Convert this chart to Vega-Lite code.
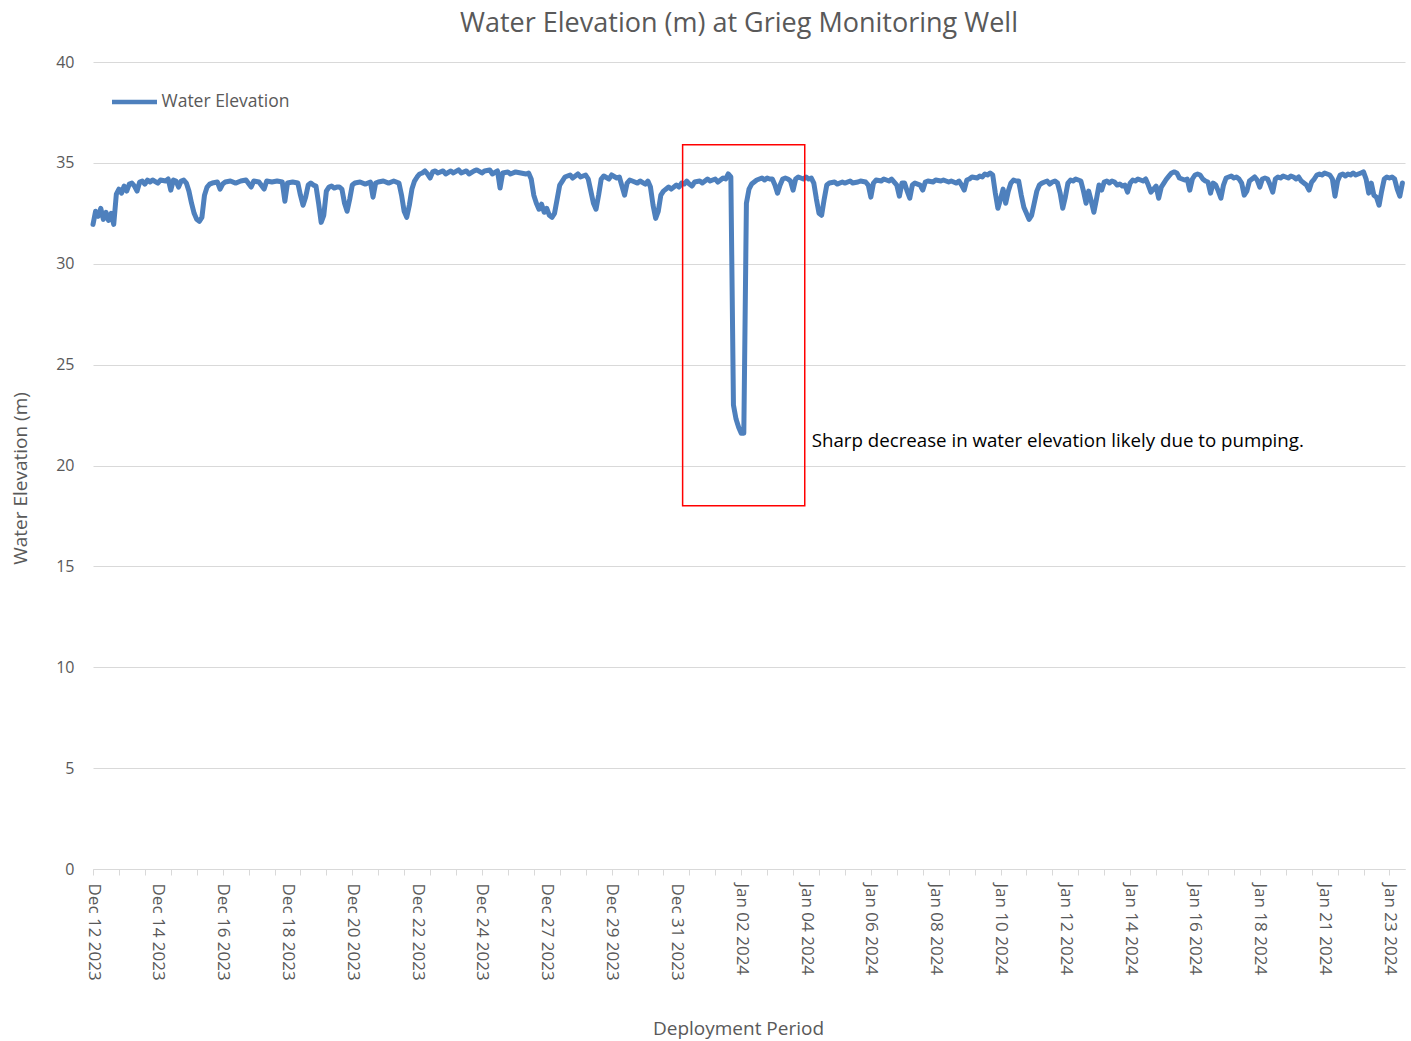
{
  "$schema": "https://vega.github.io/schema/vega-lite/v6.json",
  "width": 1312,
  "height": 807,
  "autosize": {"type": "none"},
  "padding": {"left": 93, "top": 62, "right": 6, "bottom": 172},
  "background": "white",
  "title": {"text": "Water Elevation (m) at Grieg Monitoring Well", "font": "Open Sans", "fontSize": 27, "fontWeight": "normal", "color": "#595959", "anchor": "middle", "baseline": "alphabetic", "offset": -5, "dx": -10},
  "config": {"view": {"stroke": null}, "font": "Open Sans"},
  "encoding": {
    "x": {"field": "i", "type": "quantitative",
      "scale": {"domain": [0, 506], "nice": false, "zero": false},
      "axis": {
        "title": "Deployment Period", "titleFont": "Open Sans", "titleFontSize": 19, "titleFontWeight": "normal", "titleColor": "#595959",
        "titleX": 645, "titleY": 159, "titleAlign": "center", "titleBaseline": "middle",
        "values": [0,5,10,15,20,25,30,35,40,45,50,55,60,65,70,75,80,85,90,95,100,105,110,115,120,125,130,135,140,145,150,155,160,165,170,175,180,185,190,195,200,205,210,215,220,225,230,235,240,245,250,255,260,265,270,275,280,285,290,295,300,305,310,315,320,325,330,335,340,345,350,355,360,365,370,375,380,385,390,395,400,405,410,415,420,425,430,435,440,445,450,455,460,465,470,475,480,485,490,495,500,505],
        "labelExpr": "datum.value % 25 === 0 && datum.value <= 500 ? ['Dec 12 2023','Dec 14 2023','Dec 16 2023','Dec 18 2023','Dec 20 2023','Dec 22 2023','Dec 24 2023','Dec 27 2023','Dec 29 2023','Dec 31 2023','Jan 02 2024','Jan 04 2024','Jan 06 2024','Jan 08 2024','Jan 10 2024','Jan 12 2024','Jan 14 2024','Jan 16 2024','Jan 18 2024','Jan 21 2024','Jan 23 2024'][datum.value / 25] : ''",
        "labelAngle": 90, "labelFont": "Open Sans", "labelFontSize": 17, "labelColor": "#595959",
        "labelOverlap": false, "labelFlush": false, "labelBound": false, "labelPadding": 8,
        "ticks": true, "tickSize": 6, "tickColor": "#d9d9d9", "tickWidth": 1,
        "tickOpacity": {"condition": {"test": "datum.value % 10 === 0", "value": 1}, "value": 0},
        "domain": true, "domainColor": "#d9d9d9", "domainWidth": 1,
        "grid": false
      }
    },
    "y": {"field": "v", "type": "quantitative",
      "scale": {"domain": [0, 40], "nice": false, "zero": true},
      "axis": {
        "title": "Water Elevation (m)", "titleFont": "Open Sans", "titleFontSize": 19, "titleFontWeight": "normal", "titleColor": "#595959",
        "titleX": -73, "titleY": 416, "titleAngle": -90, "titleAlign": "center", "titleBaseline": "middle",
        "values": [0,5,10,15,20,25,30,35,40],
        "labelFont": "Open Sans", "labelFontSize": 16, "labelColor": "#595959", "labelPadding": 19,
        "ticks": false, "domain": false,
        "grid": true, "gridColor": "#d9d9d9", "gridWidth": 1
      }
    }
  },
  "layer": [
    {
      "data": {"values": [
{"i":0,"v":31.95},{"i":1,"v":32.6},{"i":2,"v":32.35},{"i":3,"v":32.75},{"i":4,"v":32.2},{"i":5,"v":32.55},{"i":6,"v":32.15},{"i":7,"v":32.5},{"i":8,"v":31.95},{"i":9,"v":33.45},{"i":10,"v":33.7},{"i":11,"v":33.5},{"i":12,"v":33.85},{"i":13,"v":33.6},{"i":14,"v":33.95},{"i":15,"v":34.0},{"i":16,"v":33.85},{"i":17,"v":33.6},{"i":18,"v":34.05},{"i":19,"v":34.1},{"i":20,"v":33.95},{"i":21,"v":34.15},{"i":22,"v":34.05},{"i":23,"v":34.15},{"i":25,"v":34.0},{"i":26,"v":34.15},{"i":28,"v":34.1},{"i":29,"v":34.2},{"i":30,"v":33.65},{"i":31,"v":34.15},{"i":32,"v":34.1},{"i":33,"v":33.8},{"i":34,"v":34.1},{"i":35,"v":34.15},{"i":36,"v":34.0},{"i":37,"v":33.6},{"i":38,"v":33.0},{"i":39,"v":32.5},{"i":40,"v":32.2},{"i":41,"v":32.1},{"i":42,"v":32.3},{"i":43,"v":33.4},{"i":44,"v":33.8},{"i":45,"v":33.95},{"i":46,"v":34.0},{"i":48,"v":34.05},{"i":49,"v":33.7},{"i":50,"v":33.95},{"i":51,"v":34.05},{"i":53,"v":34.1},{"i":55,"v":34.0},{"i":57,"v":34.1},{"i":59,"v":34.15},{"i":61,"v":33.8},{"i":62,"v":34.1},{"i":64,"v":34.05},{"i":66,"v":33.7},{"i":67,"v":34.1},{"i":69,"v":34.05},{"i":71,"v":34.1},{"i":73,"v":34.05},{"i":74,"v":33.1},{"i":75,"v":34.0},{"i":77,"v":34.05},{"i":79,"v":34.0},{"i":80,"v":33.4},{"i":81,"v":32.9},{"i":82,"v":33.3},{"i":83,"v":33.9},{"i":84,"v":34.0},{"i":85,"v":33.9},{"i":86,"v":33.85},{"i":87,"v":33.0},{"i":88,"v":32.05},{"i":89,"v":32.4},{"i":90,"v":33.6},{"i":91,"v":33.8},{"i":92,"v":33.85},{"i":93,"v":33.75},{"i":94,"v":33.8},{"i":95,"v":33.8},{"i":96,"v":33.7},{"i":97,"v":33.0},{"i":98,"v":32.6},{"i":99,"v":33.2},{"i":100,"v":33.9},{"i":101,"v":34.0},{"i":103,"v":34.05},{"i":105,"v":33.95},{"i":107,"v":34.05},{"i":108,"v":33.3},{"i":109,"v":34.0},{"i":110,"v":34.05},{"i":112,"v":34.1},{"i":114,"v":34.0},{"i":116,"v":34.1},{"i":118,"v":34.0},{"i":119,"v":33.4},{"i":120,"v":32.6},{"i":121,"v":32.3},{"i":122,"v":32.9},{"i":123,"v":33.7},{"i":124,"v":34.1},{"i":125,"v":34.3},{"i":126,"v":34.45},{"i":127,"v":34.5},{"i":128,"v":34.6},{"i":129,"v":34.45},{"i":130,"v":34.25},{"i":131,"v":34.55},{"i":132,"v":34.6},{"i":133,"v":34.5},{"i":135,"v":34.6},{"i":136,"v":34.45},{"i":138,"v":34.6},{"i":139,"v":34.5},{"i":141,"v":34.65},{"i":142,"v":34.5},{"i":144,"v":34.6},{"i":145,"v":34.45},{"i":147,"v":34.6},{"i":148,"v":34.65},{"i":150,"v":34.5},{"i":151,"v":34.6},{"i":153,"v":34.65},{"i":154,"v":34.45},{"i":156,"v":34.6},{"i":157,"v":33.75},{"i":158,"v":34.5},{"i":160,"v":34.55},{"i":161,"v":34.45},{"i":163,"v":34.55},{"i":165,"v":34.5},{"i":167,"v":34.45},{"i":168,"v":34.5},{"i":169,"v":34.2},{"i":170,"v":33.4},{"i":171,"v":33.0},{"i":172,"v":32.7},{"i":173,"v":32.95},{"i":174,"v":32.55},{"i":175,"v":32.75},{"i":176,"v":32.4},{"i":177,"v":32.3},{"i":178,"v":32.5},{"i":179,"v":33.2},{"i":180,"v":33.9},{"i":181,"v":34.1},{"i":182,"v":34.3},{"i":184,"v":34.4},{"i":185,"v":34.25},{"i":187,"v":34.45},{"i":188,"v":34.3},{"i":190,"v":34.4},{"i":191,"v":34.2},{"i":192,"v":33.6},{"i":193,"v":33.0},{"i":194,"v":32.7},{"i":195,"v":33.4},{"i":196,"v":34.2},{"i":197,"v":34.35},{"i":199,"v":34.2},{"i":200,"v":34.4},{"i":202,"v":34.25},{"i":203,"v":34.3},{"i":205,"v":33.4},{"i":206,"v":34.0},{"i":207,"v":34.15},{"i":208,"v":34.1},{"i":210,"v":34.0},{"i":211,"v":34.1},{"i":213,"v":33.95},{"i":214,"v":34.1},{"i":215,"v":33.8},{"i":216,"v":32.9},{"i":217,"v":32.25},{"i":218,"v":32.6},{"i":219,"v":33.4},{"i":220,"v":33.6},{"i":222,"v":33.8},{"i":223,"v":33.7},{"i":225,"v":33.9},{"i":226,"v":33.8},{"i":227,"v":34.0},{"i":228,"v":33.95},{"i":229,"v":34.1},{"i":230,"v":33.95},{"i":231,"v":33.85},{"i":232,"v":34.05},{"i":234,"v":34.1},{"i":235,"v":34.0},{"i":237,"v":34.2},{"i":238,"v":34.1},{"i":240,"v":34.2},{"i":241,"v":34.05},{"i":243,"v":34.25},{"i":244,"v":34.2},{"i":245,"v":34.45},{"i":246,"v":34.3},{"i":247,"v":23.0},{"i":248,"v":22.3},{"i":249,"v":21.9},{"i":250,"v":21.6},{"i":251,"v":21.6},{"i":252,"v":33.0},{"i":253,"v":33.7},{"i":254,"v":33.95},{"i":255,"v":34.05},{"i":256,"v":34.15},{"i":257,"v":34.2},{"i":258,"v":34.25},{"i":259,"v":34.15},{"i":260,"v":34.25},{"i":261,"v":34.2},{"i":262,"v":34.2},{"i":263,"v":33.9},{"i":264,"v":33.5},{"i":265,"v":33.9},{"i":266,"v":34.2},{"i":267,"v":34.25},{"i":268,"v":34.2},{"i":269,"v":34.1},{"i":270,"v":33.65},{"i":271,"v":34.2},{"i":272,"v":34.3},{"i":274,"v":34.2},{"i":275,"v":34.3},{"i":276,"v":34.2},{"i":277,"v":34.25},{"i":278,"v":34.0},{"i":279,"v":33.2},{"i":280,"v":32.5},{"i":281,"v":32.4},{"i":282,"v":33.2},{"i":283,"v":33.9},{"i":284,"v":34.0},{"i":286,"v":34.05},{"i":287,"v":33.95},{"i":289,"v":34.05},{"i":290,"v":34.0},{"i":292,"v":34.1},{"i":293,"v":34.0},{"i":295,"v":34.05},{"i":296,"v":34.1},{"i":298,"v":34.05},{"i":299,"v":33.9},{"i":300,"v":33.3},{"i":301,"v":34.0},{"i":302,"v":34.15},{"i":304,"v":34.1},{"i":305,"v":34.2},{"i":307,"v":34.1},{"i":308,"v":34.2},{"i":310,"v":33.9},{"i":311,"v":33.35},{"i":312,"v":34.0},{"i":313,"v":34.0},{"i":314,"v":33.6},{"i":315,"v":33.25},{"i":316,"v":33.9},{"i":317,"v":34.0},{"i":318,"v":33.95},{"i":319,"v":33.9},{"i":320,"v":33.65},{"i":321,"v":34.05},{"i":322,"v":34.1},{"i":324,"v":34.05},{"i":325,"v":34.15},{"i":327,"v":34.1},{"i":328,"v":34.15},{"i":330,"v":34.05},{"i":331,"v":34.1},{"i":333,"v":34.0},{"i":334,"v":34.1},{"i":335,"v":33.9},{"i":336,"v":33.65},{"i":337,"v":34.15},{"i":338,"v":34.2},{"i":339,"v":34.3},{"i":341,"v":34.25},{"i":342,"v":34.35},{"i":343,"v":34.3},{"i":344,"v":34.45},{"i":345,"v":34.4},{"i":346,"v":34.5},{"i":347,"v":34.4},{"i":348,"v":33.5},{"i":349,"v":32.75},{"i":350,"v":33.2},{"i":351,"v":33.7},{"i":352,"v":33.0},{"i":353,"v":33.6},{"i":354,"v":34.0},{"i":355,"v":34.15},{"i":356,"v":34.1},{"i":357,"v":34.1},{"i":358,"v":33.4},{"i":359,"v":32.8},{"i":360,"v":32.5},{"i":361,"v":32.2},{"i":362,"v":32.4},{"i":363,"v":33.0},{"i":364,"v":33.6},{"i":365,"v":33.9},{"i":366,"v":34.0},{"i":367,"v":34.05},{"i":368,"v":34.1},{"i":369,"v":33.95},{"i":370,"v":34.05},{"i":371,"v":34.1},{"i":372,"v":34.0},{"i":373,"v":33.5},{"i":374,"v":32.75},{"i":375,"v":33.3},{"i":376,"v":34.0},{"i":377,"v":34.15},{"i":378,"v":34.1},{"i":379,"v":34.2},{"i":380,"v":34.15},{"i":381,"v":34.1},{"i":382,"v":33.6},{"i":383,"v":33.0},{"i":384,"v":33.6},{"i":385,"v":33.1},{"i":386,"v":32.55},{"i":387,"v":33.2},{"i":388,"v":33.9},{"i":389,"v":33.65},{"i":390,"v":34.05},{"i":391,"v":34.1},{"i":392,"v":34.0},{"i":393,"v":34.1},{"i":394,"v":34.05},{"i":395,"v":33.9},{"i":396,"v":33.95},{"i":397,"v":33.85},{"i":398,"v":33.9},{"i":399,"v":33.55},{"i":400,"v":34.0},{"i":401,"v":34.15},{"i":402,"v":34.1},{"i":403,"v":34.2},{"i":404,"v":34.15},{"i":405,"v":34.1},{"i":406,"v":34.2},{"i":407,"v":33.9},{"i":408,"v":33.55},{"i":409,"v":33.7},{"i":410,"v":33.85},{"i":411,"v":33.25},{"i":412,"v":33.8},{"i":413,"v":34.0},{"i":414,"v":34.2},{"i":415,"v":34.35},{"i":416,"v":34.5},{"i":417,"v":34.55},{"i":418,"v":34.5},{"i":419,"v":34.25},{"i":420,"v":34.2},{"i":421,"v":34.15},{"i":422,"v":34.2},{"i":423,"v":33.65},{"i":424,"v":34.2},{"i":425,"v":34.4},{"i":426,"v":34.45},{"i":427,"v":34.4},{"i":428,"v":34.2},{"i":429,"v":34.1},{"i":430,"v":34.05},{"i":431,"v":33.5},{"i":432,"v":34.0},{"i":433,"v":33.9},{"i":434,"v":33.6},{"i":435,"v":33.25},{"i":436,"v":33.9},{"i":437,"v":34.25},{"i":438,"v":34.3},{"i":439,"v":34.35},{"i":440,"v":34.25},{"i":441,"v":34.3},{"i":442,"v":34.2},{"i":443,"v":34.0},{"i":444,"v":33.4},{"i":445,"v":33.6},{"i":446,"v":34.1},{"i":447,"v":34.2},{"i":448,"v":34.3},{"i":449,"v":34.15},{"i":450,"v":33.8},{"i":451,"v":34.2},{"i":452,"v":34.25},{"i":453,"v":34.2},{"i":454,"v":33.9},{"i":455,"v":33.55},{"i":456,"v":34.2},{"i":457,"v":34.3},{"i":458,"v":34.25},{"i":459,"v":34.35},{"i":460,"v":34.3},{"i":461,"v":34.25},{"i":462,"v":34.35},{"i":463,"v":34.3},{"i":464,"v":34.2},{"i":465,"v":34.3},{"i":466,"v":34.1},{"i":467,"v":34.0},{"i":468,"v":33.9},{"i":469,"v":33.65},{"i":470,"v":34.05},{"i":471,"v":34.2},{"i":472,"v":34.4},{"i":473,"v":34.45},{"i":474,"v":34.4},{"i":475,"v":34.5},{"i":476,"v":34.45},{"i":477,"v":34.4},{"i":478,"v":34.2},{"i":479,"v":33.35},{"i":480,"v":34.1},{"i":481,"v":34.4},{"i":482,"v":34.45},{"i":483,"v":34.35},{"i":484,"v":34.45},{"i":485,"v":34.4},{"i":486,"v":34.5},{"i":487,"v":34.4},{"i":488,"v":34.45},{"i":489,"v":34.5},{"i":490,"v":34.55},{"i":491,"v":34.2},{"i":492,"v":33.5},{"i":493,"v":34.0},{"i":494,"v":33.4},{"i":495,"v":33.3},{"i":496,"v":32.9},{"i":497,"v":33.6},{"i":498,"v":34.2},{"i":499,"v":34.3},{"i":500,"v":34.25},{"i":501,"v":34.3},{"i":502,"v":34.2},{"i":503,"v":33.7},{"i":504,"v":33.35},{"i":505,"v":34.0}
      ]},
      "mark": {"type": "line", "strokeWidth": 5, "strokeJoin": "round", "strokeCap": "round"},
      "encoding": {
        "color": {"datum": "Water Elevation", "type": "nominal",
          "scale": {"range": ["#4e80bd"]},
          "legend": {"title": null, "orient": "none", "legendX": 16.5, "legendY": 15, "padding": 0,
            "symbolType": "stroke", "symbolSize": 2025, "symbolStrokeWidth": 4.5,
            "labelFont": "Open Sans", "labelFontSize": 17.5, "labelColor": "#595959", "labelOffset": 2}
        }
      }
    },
    {
      "data": {"values": [{"i": 227.4, "i2": 274.5, "v": 18.0, "v2": 35.9}]},
      "mark": {"type": "rect", "fill": null, "fillOpacity": 0, "stroke": "#ff0000", "strokeWidth": 1.5},
      "encoding": {
        "x2": {"field": "i2"},
        "y2": {"field": "v2"}
      }
    },
    {
      "data": {"values": [{"i": 277.2, "v": 21.2, "note": "Sharp decrease in water elevation likely due to pumping."}]},
      "mark": {"type": "text", "align": "left", "baseline": "middle", "font": "Open Sans", "fontSize": 18.7, "color": "#000000"},
      "encoding": {
        "text": {"field": "note"}
      }
    }
  ]
}
